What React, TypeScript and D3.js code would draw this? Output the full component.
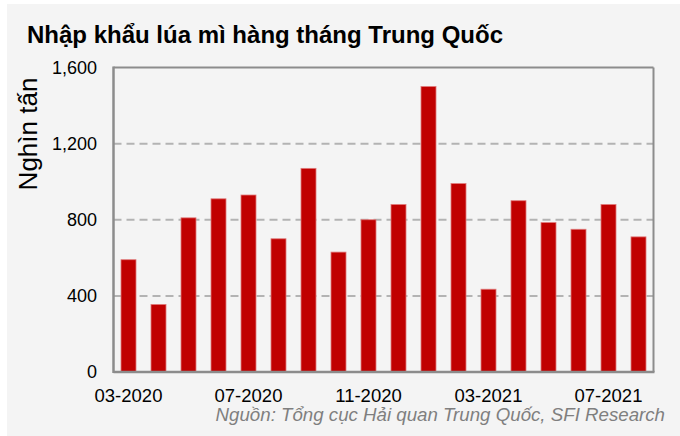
import React from "react";
import * as d3 from "d3";

const months = [
  "03-2020", "04-2020", "05-2020", "06-2020", "07-2020", "08-2020",
  "09-2020", "10-2020", "11-2020", "12-2020", "01-2021", "02-2021",
  "03-2021", "04-2021", "05-2021", "06-2021", "07-2021", "08-2021",
];
const imports = [590, 355, 810, 910, 930, 700, 1070, 630, 800, 880, 1500, 990, 435, 900, 785, 750, 880, 710];
const yTicks = [0, 400, 800, 1200, 1600];
const xTickLabels = ["03-2020", "07-2020", "11-2020", "03-2021", "07-2021"];

const title = "Nhập khẩu lúa mì hàng tháng Trung Quốc";
const yLabel = "Nghìn tấn";
const source = "Nguồn: Tổng cục Hải quan Trung Quốc, SFI Research";

const W = 680;
const H = 436;
const left = 113.5;
const right = 653.5;
const top = 67.5;
const bottom = 372;
const font = "Arial, 'Liberation Sans', Helvetica, sans-serif";

export default function App() {
  const x = d3.scaleBand<string>().domain(months).range([left, right]).paddingInner(0.5).paddingOuter(0.25);
  const y = d3.scaleLinear().domain([0, 1600]).range([bottom, top]);
  const fmt = d3.format(",");

  return (
    <div style={{ position: "absolute", left: 0, top: 0 }}>
      <svg width={W} height={H} style={{ display: "block" }}>
        <rect x={0} y={0} width={W} height={H} fill="#ffffff" />
        <rect x={7} y={4} width={W - 7} height={H - 4} fill="#f4f4f4" />
        <text x={27} y={43} fontFamily={font} fontWeight="bold" fontSize={24} fill="#000">
          {title}
        </text>
        {/* gridlines */}
        {yTicks.filter((t) => t > 0 && t < 1600).map((t) => (
          <line key={t} x1={left} x2={right} y1={y(t)} y2={y(t)} stroke="#b3b3b3" strokeWidth={2} strokeDasharray="8,5" />
        ))}
        {/* bars */}
        {imports.map((v, i) => (
          <rect
            key={months[i]}
            x={x(months[i])!}
            y={y(v)}
            width={x.bandwidth()}
            height={bottom - y(v)}
            fill="#c00000"
            stroke="#e07a7a"
            strokeWidth={0.8}
          />
        ))}
        {/* frame */}
        <line x1={left} x2={right} y1={top} y2={top} stroke="#8c8c8c" strokeWidth={2} />
        <line x1={right} x2={right} y1={top} y2={bottom} stroke="#8c8c8c" strokeWidth={2} />
        <line x1={left} x2={left} y1={top - 1} y2={bottom + 1} stroke="#8c8c8c" strokeWidth={2.5} />
        <line x1={left} x2={right + 1} y1={bottom} y2={bottom} stroke="#8c8c8c" strokeWidth={2.5} />
        {/* y ticks */}
        {yTicks.map((t) => (
          <text key={t} x={97} y={y(t)} dy="0.35em" textAnchor="end" fontFamily={font} fontSize={18} fill="#000">
            {fmt(t)}
          </text>
        ))}
        {/* x labels */}
        {xTickLabels.map((m) => (
          <text key={m} x={x(m)! + x.bandwidth() / 2} y={402} textAnchor="middle" fontFamily={font} fontSize={18.5} fill="#000">
            {m}
          </text>
        ))}
        <text
          transform={`translate(37, 134) rotate(-90)`}
          textAnchor="middle"
          fontFamily={font}
          fontSize={26}
          fill="#000"
        >
          {yLabel}
        </text>
        <text x={665} y={421} textAnchor="end" fontFamily={font} fontStyle="italic" fontSize={18.7} fill="#7f7f7f">
          {source}
        </text>
      </svg>
    </div>
  );
}
